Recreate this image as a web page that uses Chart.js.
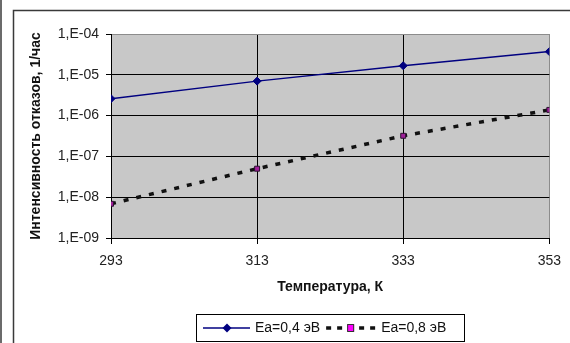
<!DOCTYPE html>
<html>
<head>
<meta charset="utf-8">
<script src="https://cdn.jsdelivr.net/npm/chart.js@4.4.1/dist/chart.umd.min.js"></script>
<style>
  html, body { margin: 0; padding: 0; background: #fff; }
  #wrap { width: 570px; height: 343px; }
</style>
</head>
<body>
<div id="wrap"><canvas id="chart" width="570" height="343"></canvas></div>
<script>
// data
const temperatures = [293, 313, 333, 353];
const rateEa04 = [2.6e-6, 7.0e-6, 1.67e-5, 3.7e-5];
const rateEa08 = [6.9e-9, 5.0e-8, 3.2e-7, 1.38e-6];
const seriesNames = ['Ea=0,4 эВ', 'Ea=0,8 эВ'];
const xTicks = [293, 313, 333, 353];
const yTicks = [1e-9, 1e-8, 1e-7, 1e-6, 1e-5, 1e-4];

const FONT = '"Liberation Sans", Arial, sans-serif';
const BLUE = '#000080';
const DASH = '#111111';

const toPoints = (ys) => temperatures.map((t, i) => ({ x: t, y: ys[i] }));

// white page, outer frame and grey plot area
const backdrop = {
  id: 'backdrop',
  beforeDraw(chart) {
    const ctx = chart.ctx;
    const a = chart.chartArea;
    ctx.save();
    ctx.fillStyle = '#fff';
    ctx.fillRect(0, 0, chart.width, chart.height);
    ctx.strokeStyle = '#3a3a3a';
    ctx.lineWidth = 1.5;
    ctx.strokeRect(13.5, 10.5, 620, 400);
    ctx.beginPath();
    ctx.moveTo(1, 0);
    ctx.lineTo(1, chart.height);
    ctx.stroke();
    ctx.fillStyle = '#c8c8c8';
    ctx.fillRect(a.left, a.top, a.right - a.left, a.bottom - a.top);
    ctx.restore();
  }
};

// boxed legend below the axis title
const boxedLegend = {
  id: 'boxedLegend',
  afterDraw(chart) {
    const ctx = chart.ctx;
    const y = 328;
    ctx.save();
    ctx.font = '14px ' + FONT;
    ctx.textBaseline = 'middle';

    // first entry: solid line with diamond
    ctx.strokeStyle = BLUE;
    ctx.lineWidth = 1.5;
    ctx.beginPath();
    ctx.moveTo(203, y);
    ctx.lineTo(250, y);
    ctx.stroke();
    ctx.fillStyle = BLUE;
    ctx.beginPath();
    ctx.moveTo(227, y - 4.5);
    ctx.lineTo(231.5, y);
    ctx.lineTo(227, y + 4.5);
    ctx.lineTo(222.5, y);
    ctx.closePath();
    ctx.fill();
    ctx.fillStyle = '#111';
    let x = 255;
    ctx.fillText(seriesNames[0], x, y + 0.5);
    x += ctx.measureText(seriesNames[0]).width + 6;

    // second entry: dashed line with square in the middle
    ctx.strokeStyle = DASH;
    ctx.lineWidth = 3.5;
    ctx.setLineDash([5, 6]);
    ctx.beginPath();
    ctx.moveTo(x, y);
    ctx.lineTo(x + 49, y);
    ctx.stroke();
    ctx.setLineDash([]);
    ctx.fillStyle = '#ff00ff';
    ctx.fillRect(x + 21, y - 3.5, 7, 7);
    ctx.strokeStyle = '#333';
    ctx.lineWidth = 1;
    ctx.strokeRect(x + 21.5, y - 3.5, 6, 7);
    x += 55;
    ctx.fillStyle = '#111';
    ctx.fillText(seriesNames[1], x, y + 0.5);

    ctx.strokeStyle = '#000';
    ctx.lineWidth = 1;
    ctx.strokeRect(196.5, 314.5, 268, 27);
    ctx.restore();
  }
};

const gridColor = (max) => (c) => (c.tick && c.tick.value === max ? '#8c8c8c' : '#000');

new Chart(document.getElementById('chart'), {
  type: 'scatter',
  data: {
    datasets: [
      {
        label: seriesNames[0],
        data: toPoints(rateEa04),
        showLine: true,
        borderColor: BLUE,
        borderWidth: 1.5,
        pointStyle: 'rectRot',
        pointRadius: 4,
        pointBackgroundColor: BLUE,
        pointBorderColor: BLUE,
        pointBorderWidth: 1
      },
      {
        label: seriesNames[1],
        data: toPoints(rateEa08),
        showLine: true,
        borderColor: DASH,
        borderWidth: 3.5,
        borderDash: [5, 8],
        pointStyle: 'rect',
        pointRadius: 3.5,
        pointBackgroundColor: '#a0209a',
        pointBorderColor: '#2a1030',
        pointBorderWidth: 1
      }
    ]
  },
  options: {
    responsive: false,
    animation: false,
    devicePixelRatio: 1,
    layout: { padding: { left: 28, top: 34, right: 18, bottom: 45 } },
    plugins: {
      legend: { display: false },
      tooltip: { enabled: false }
    },
    scales: {
      x: {
        type: 'linear',
        min: 293,
        max: 353,
        afterBuildTicks: (s) => { s.ticks = xTicks.map((v) => ({ value: v })); },
        afterFit: (s) => { s.height = 60; },
        grid: { color: gridColor(353), tickLength: 6, tickColor: '#000' },
        border: { color: '#000', width: 1 },
        ticks: { font: { family: FONT, size: 14 }, color: '#222', padding: 9, maxRotation: 0 },
        title: {
          display: true,
          text: 'Температура, К',
          font: { family: FONT, size: 14, weight: 'bold' },
          color: '#111',
          padding: { top: 0, bottom: 2 }
        }
      },
      y: {
        type: 'logarithmic',
        min: 1e-9,
        max: 1e-4,
        afterBuildTicks: (s) => { s.ticks = yTicks.map((v) => ({ value: v })); },
        afterFit: (s) => { s.width = 83; },
        grid: { color: gridColor(1e-4), tickLength: 5, tickColor: '#000' },
        border: { color: '#000', width: 1 },
        ticks: {
          font: { family: FONT, size: 14 },
          color: '#222',
          padding: 7,
          callback: (v) => '1,E-' + String(-Math.round(Math.log10(v))).padStart(2, '0')
        },
        title: {
          display: true,
          text: 'Интенсивность отказов, 1/час',
          font: { family: FONT, size: 14, weight: 'bold' },
          color: '#111',
          padding: { top: 0, bottom: 0 }
        }
      }
    }
  },
  plugins: [backdrop, boxedLegend]
});
</script>
</body>
</html>
